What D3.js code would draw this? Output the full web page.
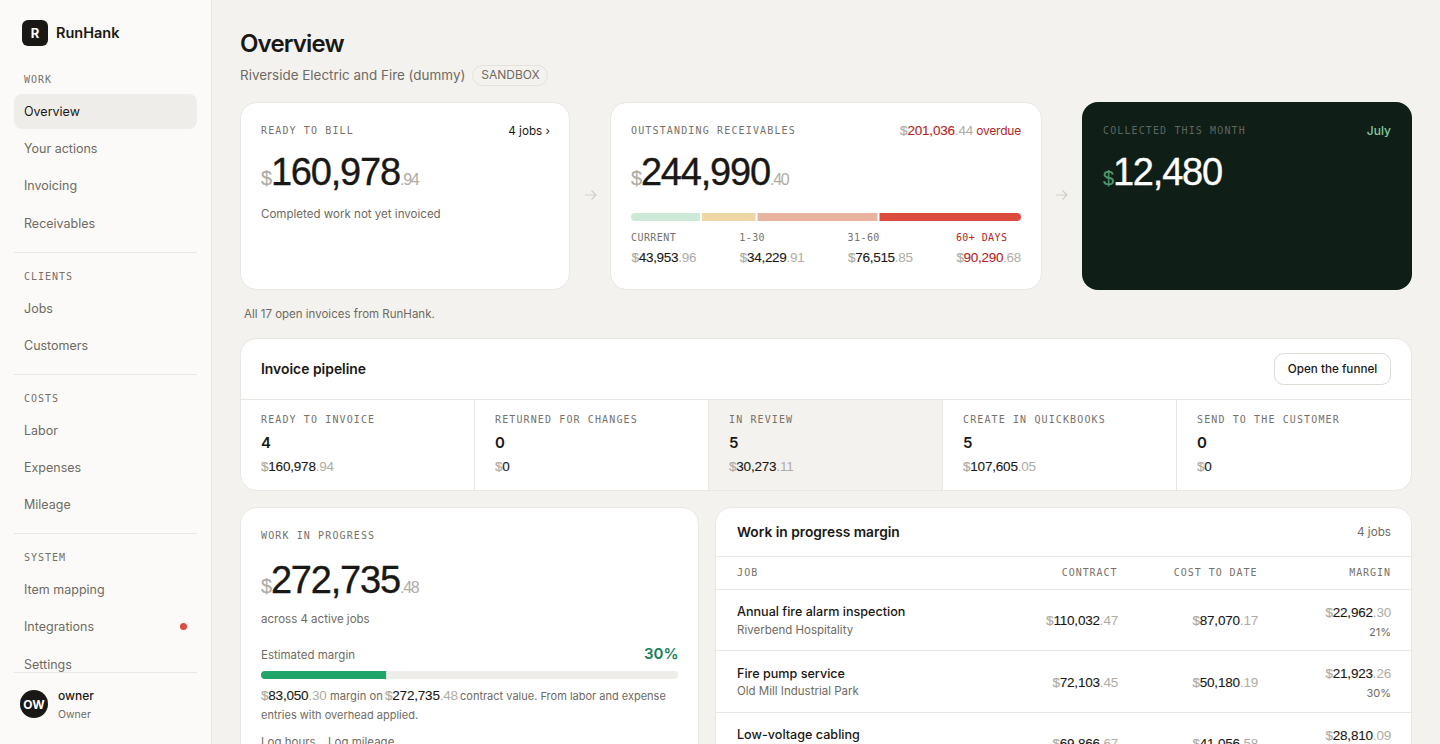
<!DOCTYPE html>
<html>
<head>
<meta charset="utf-8">
<script src="https://d3js.org/d3.v7.min.js"></script>
<style>
  html, body { margin: 0; padding: 0; background: #f4f2ef; overflow: hidden; }
  svg { display: block; }
</style>
</head>
<body>
<script>
// ---- data
var navSections = ["WORK", "CLIENTS", "COSTS", "SYSTEM"];
var navItems = [
  ["Overview", "Your actions", "Invoicing", "Receivables"],
  ["Jobs", "Customers"],
  ["Labor", "Expenses", "Mileage"],
  ["Item mapping", "Integrations", "Settings"]
];
var agingLabels = ["CURRENT", "1-30", "31-60", "60+ DAYS"];
var agingValues = [43953.96, 34229.91, 76515.85, 90290.68];
var agingColors = ["#cde9d7", "#f0d6a4", "#e8b49f", "#dc4c3e"];
var readyToBill = 160978.94;
var receivables = 244990.40;
var overdue = 201036.44;
var collected = 12480;
var pipelineLabels = ["READY TO INVOICE", "RETURNED FOR CHANGES", "IN REVIEW", "CREATE IN QUICKBOOKS", "SEND TO THE CUSTOMER"];
var pipelineCounts = [4, 0, 5, 5, 0];
var pipelineAmounts = [160978.94, 0, 30273.11, 107605.05, 0];
var wipTotal = 272735.48;
var wipMargin = 83050.30;
var wipMarginPct = 30;
var jobNames = ["Annual fire alarm inspection", "Fire pump service", "Low-voltage cabling"];
var jobCustomers = ["Riverbend Hospitality", "Old Mill Industrial Park", null];
var jobContract = [110032.47, 72103.45, 69866.67];
var jobCost = [87070.17, 50180.19, 41056.58];
var jobMargin = [22962.30, 21923.26, 28810.09];
var jobMarginPct = [21, 30, null];

// ---- colours and fonts
var ink = "#1a1814", muted = "#6f6a62", pale = "#b0aca3", line = "#e9e7e2";
var sans = "Inter, sans-serif", num = "'Liberation Sans', sans-serif", mono = "'DejaVu Sans Mono', monospace";

var svg = d3.select("body").append("svg").attr("width", 1440).attr("height", 744);

function text(x, y, str, o) {
  o = o || {};
  return svg.append("text").attr("x", x).attr("y", y).text(str)
    .attr("font-family", o.font || sans)
    .attr("font-size", o.size || 12.5)
    .attr("font-weight", o.weight || 400)
    .attr("fill", o.fill || muted)
    .attr("text-anchor", o.anchor || "start")
    .attr("letter-spacing", o.ls || 0);
}
function label(x, y, str, o) {
  o = Object.assign({ font: mono, size: 10, ls: 1.12, fill: "#76716a" }, o || {});
  return text(x, y, str, o);
}
// "$" small and pale, whole part dark, cents pale. Liberation has no medium weight so fake it with a thin stroke
function money(x, y, v, o) {
  o = o || {};
  var size = o.size || 13.5;
  var parts = d3.format(",.2f")(v).split(".");
  var t = text(x, y, "", { font: num, size: size, anchor: o.anchor, ls: o.ls === undefined ? -0.2 : o.ls });
  var sw = size > 20 ? 0.35 : 0.1;
  t.append("tspan").text("$").attr("fill", o.dollar || pale).attr("stroke", o.dollar || pale).attr("stroke-width", 0.2)
    .attr("font-size", o.dollarSize || size);
  t.append("tspan").text(parts[0]).attr("fill", o.fill || ink).attr("stroke", o.fill || ink).attr("stroke-width", sw);
  if (parts[1] !== "00") {
    t.append("tspan").text("." + parts[1]).attr("fill", pale).attr("font-size", o.centSize || size);
  }
  return t;
}
function card(x, y, w, h, fill) {
  if (fill) return svg.append("rect").attr("x", x).attr("y", y).attr("width", w).attr("height", h).attr("rx", 16).attr("fill", fill);
  return svg.append("rect").attr("x", x + 0.5).attr("y", y + 0.5).attr("width", w - 1).attr("height", h - 1)
    .attr("rx", 16).attr("fill", "#fff").attr("stroke", line);
}
function hline(x1, x2, y, c) {
  svg.append("line").attr("x1", x1).attr("x2", x2).attr("y1", y + 0.5).attr("y2", y + 0.5).attr("stroke", c || line);
}
function arrow(x, y) {
  svg.append("path").attr("d", "M" + x + " " + y + "h11M" + (x + 6.5) + " " + (y - 4.5) + "l4.5 4.5l-4.5 4.5")
    .attr("fill", "none").attr("stroke", "#d3cfc8").attr("stroke-width", 1.2);
}

// ---- sidebar
svg.append("rect").attr("width", 212).attr("height", 744).attr("fill", "#fbfaf8");
svg.append("rect").attr("x", 211).attr("width", 1).attr("height", 744).attr("fill", "#e8e6e1");
svg.append("rect").attr("x", 22).attr("y", 20).attr("width", 26).attr("height", 26).attr("rx", 6).attr("fill", ink);
text(35, 38, "R", { size: 13, weight: 700, fill: "#fff", anchor: "middle" });
text(56, 38, "RunHank", { size: 14.5, weight: 600, fill: ink });

svg.append("rect").attr("x", 14).attr("y", 94).attr("width", 183).attr("height", 35).attr("rx", 8).attr("fill", "#efedea");
var navY = 83;
navSections.forEach(function (s, i) {
  label(24, navY, s, { ls: 1 });
  var y = navY + 33;
  navItems[i].forEach(function (d, j) {
    text(24, y + j * 37.2, d, { fill: d === "Overview" ? ink : muted });
  });
  y += (navItems[i].length - 1) * 37.2;
  if (i < navSections.length - 1) {
    hline(14, 197, Math.round(y + 23.9));
    navY = y + 52;
  }
});
svg.append("circle").attr("cx", 183.5).attr("cy", 626.5).attr("r", 3.5).attr("fill", "#dc4c3e");
hline(14, 197, 672);
svg.append("circle").attr("cx", 34).attr("cy", 704).attr("r", 14).attr("fill", ink);
text(34, 709, "OW", { size: 12, weight: 700, fill: "#fff", anchor: "middle" });
text(58, 700, "owner", { size: 12, weight: 500, fill: ink });
text(58, 718, "Owner", { size: 10.5 });

// ---- header
text(240, 52, "Overview", { size: 24, weight: 600, fill: ink, ls: -0.85 });
text(240, 80, "Riverside Electric and Fire (dummy)", { size: 13.45 });
svg.append("rect").attr("x", 472.5).attr("y", 65.5).attr("width", 75).attr("height", 20).attr("rx", 10)
  .attr("fill", "none").attr("stroke", "#e3e1dc");
text(510.5, 79, "SANDBOX", { size: 12, anchor: "middle" });

// ---- ready to bill
var bigOpts = { size: 38, dollarSize: 20, centSize: 16, ls: -1.2 };
card(240, 102, 330, 188);
label(261, 134, "READY TO BILL");
text(550, 135, "4 jobs ›", { size: 11.7, fill: ink, anchor: "end" });
money(261, 185, readyToBill, bigOpts);
text(261, 218, "Completed work not yet invoiced", { size: 11.55 });
arrow(585, 195);

// ---- outstanding receivables
card(610, 102, 432, 188);
label(631, 134, "OUTSTANDING RECEIVABLES", { ls: 1.15 });
var od = money(1021, 135, overdue, { size: 13.5, fill: "#b3261e", anchor: "end", ls: -0.2 });
od.append("tspan").text(" overdue").attr("fill", "#b3261e").attr("font-family", sans).attr("font-size", 12);
money(631, 185, receivables, bigOpts);

// bar segments share the width left over after the 2px gaps
var agingGap = 2, barLeft = 631, barRight = 1021;
var x = d3.scaleLinear().domain([0, d3.sum(agingValues)]).range([0, barRight - barLeft - agingGap * (agingValues.length - 1)]);
var cum = d3.cumsum(agingValues);
svg.append("clipPath").attr("id", "agingClip").append("rect")
  .attr("x", barLeft).attr("y", 213).attr("width", barRight - barLeft).attr("height", 8).attr("rx", 4);
svg.append("g").attr("clip-path", "url(#agingClip)").selectAll("rect").data(agingValues).join("rect")
  .attr("x", function (d, i) { return barLeft + x(cum[i] - d) + i * agingGap; })
  .attr("y", 213).attr("height", 8)
  .attr("width", function (d) { return x(d); })
  .attr("fill", function (d, i) { return agingColors[i]; });

agingLabels.forEach(function (d, i) {
  var ax = 631 + i * 108.3;
  label(ax, 241, d, { ls: 0.42, fill: i === 3 ? "#b3261e" : "#76716a" });
  money(ax + 0.5, 262, agingValues[i], { size: 13.5, ls: -0.3, fill: i === 3 ? "#b3261e" : ink });
});
arrow(1056, 195);

// ---- collected
card(1082, 102, 330, 188, "#101e18");
label(1103, 134, "COLLECTED THIS MONTH", { fill: "#5d665f" });
text(1391, 135, "July", { size: 12, weight: 500, fill: "#86c9a2", anchor: "end" });
money(1103, 185, collected, { size: 38, dollarSize: 20, fill: "#fff", dollar: "#4f9a70", ls: -1.2 });

text(244, 318, "All 17 open invoices from RunHank.", { size: 11.5 });

// ---- pipeline
card(240, 338, 1172, 153);
text(261, 374, "Invoice pipeline", { size: 13.9, weight: 600, fill: ink });
svg.append("rect").attr("x", 1274.5).attr("y", 353.5).attr("width", 116).attr("height", 31).attr("rx", 9)
  .attr("fill", "#fff").attr("stroke", "#dedbd5");
text(1332.5, 373, "Open the funnel", { size: 11.7, weight: 500, fill: ink, anchor: "middle" });
hline(241, 1411, 399);
svg.append("rect").attr("x", 709).attr("y", 400).attr("width", 234).attr("height", 90).attr("fill", "#f4f2ee");
pipelineLabels.forEach(function (d, i) {
  var px = 241 + i * 234;
  if (i > 0) svg.append("line").attr("x1", px - 0.5).attr("x2", px - 0.5).attr("y1", 400).attr("y2", 490).attr("stroke", line);
  label(px + 20, 423, d);
  text(px + 20, 448, pipelineCounts[i], { size: 15, weight: 600, fill: ink });
  money(px + 20, 471, pipelineAmounts[i]);
});

// ---- work in progress
card(240, 507, 459, 280);
label(261, 539, "WORK IN PROGRESS");
money(261, 593, wipTotal, bigOpts);
text(261, 623, "across 4 active jobs", { size: 11.5 });
text(261, 659, "Estimated margin", { size: 11.5 });
text(678.5, 659, wipMarginPct + "%", { size: 15, weight: 600, fill: "#168058", anchor: "end" });
var mx = d3.scaleLinear().domain([0, 100]).range([261, 678]);
svg.append("rect").attr("x", mx(0)).attr("y", 671).attr("width", mx(100) - mx(0)).attr("height", 8).attr("rx", 4).attr("fill", "#efedea");
svg.append("path").attr("fill", "#1ea567")
  .attr("d", "M" + mx(wipMarginPct) + " 671H" + (mx(0) + 4) + "a4 4 0 0 0 0 8H" + mx(wipMarginPct) + "z");
money(261, 700, wipMargin);
text(330, 700, "margin on", { size: 11.2 });
money(385, 700, wipTotal);
text(460, 700, "contract value. From labor and expense", { size: 11 });
text(261, 719, "entries with overhead applied.", { size: 11 });
text(261, 746, "Log hours", { size: 11.5 });
text(328, 746, "Log mileage", { size: 11.5 });

// ---- margin table
card(715, 507, 697, 280);
text(737, 537, "Work in progress margin", { size: 13.75, weight: 600, fill: ink });
text(1391, 536, "4 jobs", { size: 11.7, anchor: "end" });
hline(716, 1411, 556);
label(737, 576, "JOB");
label(1117.5, 576, "CONTRACT", { anchor: "end", ls: 0.95 });
label(1257.5, 576, "COST TO DATE", { anchor: "end", ls: 0.95 });
label(1391, 576, "MARGIN", { anchor: "end", ls: 0.95 });
hline(716, 1411, 589);
var nameY = [616, 678, 739], custY = [634, 695], amountY = [625, 687, 748], marginY = [617, 678, 740], pctY = [636, 697];
jobNames.forEach(function (d, i) {
  text(737, nameY[i], d, { size: 12.6, weight: 500, fill: ink });
  if (jobCustomers[i]) text(737, custY[i], jobCustomers[i], { size: 11.5 });
  money(1118, amountY[i], jobContract[i], { anchor: "end" });
  money(1258, amountY[i], jobCost[i], { anchor: "end" });
  money(1391, marginY[i], jobMargin[i], { anchor: "end" });
  if (jobMarginPct[i] !== null) text(1391, pctY[i], jobMarginPct[i] + "%", { size: 11, anchor: "end" });
});
hline(716, 1411, 650);
hline(716, 1411, 712);
</script>
</body>
</html>
